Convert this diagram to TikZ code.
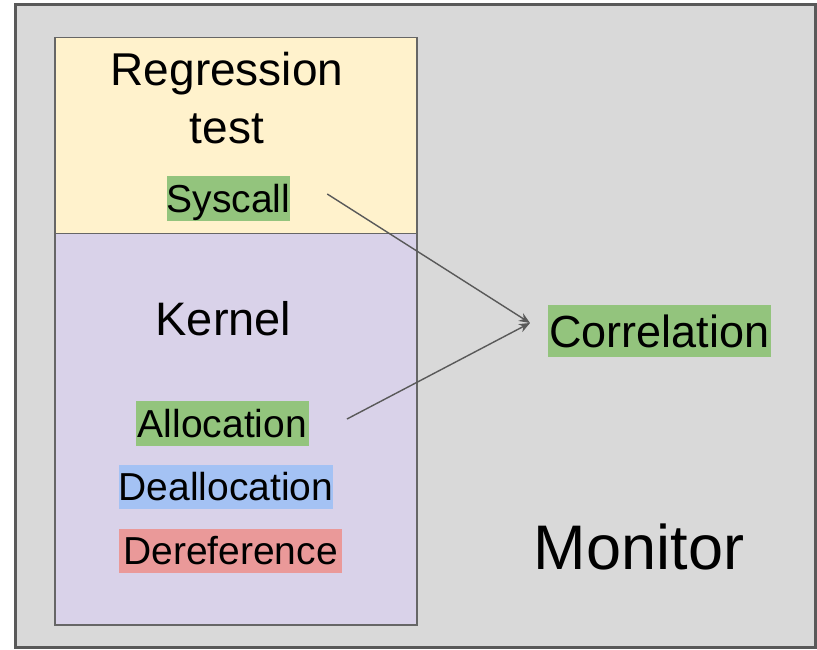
\documentclass[tikz,border=0pt]{standalone}
\usepackage{fontspec}
\setmainfont{Liberation Sans}
\usetikzlibrary{arrows.meta}
\definecolor{monitorfill}{HTML}{D9D9D9}
\definecolor{framegray}{HTML}{595959}
\definecolor{edgegray}{HTML}{666666}
\definecolor{testfill}{HTML}{FFF2CC}
\definecolor{kernelfill}{HTML}{D9D2E9}
\definecolor{tagg}{HTML}{93C47D}
\definecolor{tagb}{HTML}{A4C2F4}
\definecolor{tagr}{HTML}{EA9999}
\newcommand{\fsz}[1]{\fontsize{#1}{#1}\selectfont}
\tikzset{
  region/.style={draw=edgegray, line width=1.5pt, inner sep=0pt, outer sep=0pt},
  tag/.style={inner xsep=0pt, inner ysep=0pt, outer sep=0pt, text depth=9pt, font=\fsz{39}},
  label/.style={inner sep=0pt, anchor=base},
  flow/.style={draw=framegray, line width=1.4pt, -{Stealth[length=11pt,width=9pt]}},
}
\begin{document}
\begin{tikzpicture}[x=1pt,y=-1pt]
\useasboundingbox (0,0) rectangle (817,649);
% outer monitor frame
\node[draw=framegray, fill=monitorfill, line width=3pt, inner sep=0pt,
      minimum width=799.5pt, minimum height=643pt] (monitor) at (415.25,325.5) {};
% regression test and kernel regions
\node[region, fill=testfill, minimum width=362pt, minimum height=196pt] (test) at (236,135.5) {};
\node[region, fill=kernelfill, minimum width=362pt, minimum height=391.5pt] (kernel) at (236,429.25) {};
% titles (base anchor of a two-line node is its last line)
\node[label, align=center, font=\fontsize{46}{58}\selectfont] (testlbl) at (227,143) {Regression\\test};
\node[label, font=\fsz{47}] (kernellbl) at (223.5,335.5) {Kernel};
\node[label, font=\fsz{63}] (monitorlbl) at (639,569) {Monitor};
% event tags
\node[tag, fill=tagg, minimum width=123pt, text height=36pt] (sys) at (228.5,198.5) {Syscall};
\node[tag, fill=tagg, minimum width=223pt, text height=42pt, text depth=10pt, font=\fsz{45}] (corr) at (659.5,331) {Correlation};
\node[tag, fill=tagg, minimum width=173pt, text height=36pt] (alloc) at (222.5,423.5) {Allocation};
\node[tag, fill=tagb, minimum width=212pt, text height=35pt] (dealloc) at (226,487) {Deallocation};
\node[tag, fill=tagr, minimum width=223pt, text height=35pt] (deref) at (230.5,551) {Dereference};
% connectors into the correlation step
\draw[flow] ([shift={(37,-4.5)}]sys.east) -- ([shift={(-18,-8)}]corr.west);
\draw[flow] ([shift={(38,-4.5)}]alloc.east) -- ([shift={(-18,-8)}]corr.west);
\end{tikzpicture}
\end{document}
